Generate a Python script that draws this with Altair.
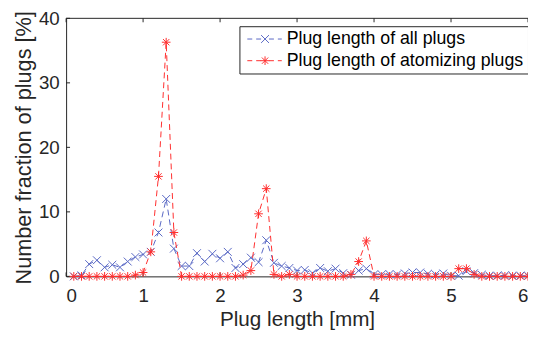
import altair as alt
import pandas as pd

# Bin positions (mm)
plug_len = [0.1, 0.2, 0.3, 0.4, 0.5, 0.6, 0.7, 0.8, 0.9, 1.0,
            1.1, 1.2, 1.3, 1.4, 1.5, 1.6, 1.7, 1.8, 1.9, 2.0,
            2.1, 2.2, 2.3, 2.4, 2.5, 2.6, 2.7, 2.8, 2.9, 3.0,
            3.1, 3.2, 3.3, 3.4, 3.5, 3.6, 3.7, 3.8, 3.9, 4.0,
            4.1, 4.2, 4.3, 4.4, 4.5, 4.6, 4.7, 4.8, 4.9, 5.0,
            5.1, 5.2, 5.3, 5.4, 5.5, 5.6, 5.7, 5.8, 5.9, 6.0]

# Number fraction [%] of all plugs
all_plugs = [0.0, 0.15, 1.9, 2.5, 1.4, 1.8, 1.4, 2.3, 3.0, 3.4,
             3.8, 6.8, 12.0, 4.3, 1.6, 1.6, 3.6, 2.3, 3.5, 2.8,
             3.8, 1.3, 1.9, 2.9, 2.2, 5.6, 2.1, 1.6, 1.3, 0.9,
             1.0, 0.5, 1.3, 0.8, 1.2, 0.5, 0.25, 0.9, 1.2, 0.3,
             0.3, 0.35, 0.3, 0.45, 0.6, 0.6, 0.4, 0.3, 0.45, 0.1,
             0.1, 0.8, 0.5, 0.25, 0.1, 0.1, 0.15, 0.1, 0.1, 0.1]

# Number fraction [%] of atomizing plugs
atom_plugs = [0.0, 0.0, 0.0, 0.0, 0.0, 0.0, 0.0, 0.0, 0.2, 0.6,
              3.8, 15.5, 36.3, 6.8, 0.0, 0.0, 0.0, 0.0, 0.0, 0.0,
              0.0, 0.0, 0.2, 0.9, 9.7, 13.6, 0.3, 0.0, 0.3, 0.0,
              0.0, 0.0, 0.0, 0.0, 0.0, 0.0, 0.3, 2.3, 5.5, 0.0,
              0.0, 0.0, 0.0, 0.0, 0.0, 0.0, 0.0, 0.0, 0.0, 0.0,
              1.2, 1.2, 0.3, 0.0, 0.0, 0.0, 0.0, 0.0, 0.0, 0.0]

series_keys = ["all", "atom"]
legend_labels = ["Plug length of all plugs", "Plug length of atomizing plugs"]
x_ticks = [0, 1, 2, 3, 4, 5, 6]
y_ticks = [0, 10, 20, 30, 40]

BLUE = "#5868c4"
RED = "#ff2e2e"
DARK = "#262626"
FONT = "Liberation Sans"
W, H = 469, 262

X_PATH = "M-1,-1L1,1M-1,1L1,-1"
AST_PATH = "M-1.1,0L1.1,0M0,-1.1L0,1.1M-0.8,-0.8L0.8,0.8M-0.8,0.8L0.8,-0.8"
DASHES = "M-1.25,0L0,0M1,0L2.25,0M4.25,0L5.5,0M6.5,0L7.5,0"
LEG_X = DASHES + "M2.25,-1L4.25,1M2.25,1L4.25,-1"
LEG_AST = DASHES + ("M2.15,0L4.35,0M3.25,-1.1L3.25,1.1M2.45,-0.8L4.05,0.8M2.45,0.8L4.05,-0.8")

df = pd.DataFrame({
    "x": plug_len * 2,
    "y": all_plugs + atom_plugs,
    "series": [series_keys[0]] * len(plug_len) + [series_keys[1]] * len(plug_len),
})

domain = series_keys + legend_labels
cscale = alt.Scale(domain=domain, range=[BLUE, RED, BLUE, RED])
sscale = alt.Scale(domain=domain, range=[X_PATH, AST_PATH, LEG_X, LEG_AST])

leg = alt.Legend(
    title=None, values=legend_labels, orient="none", legendX=176, legendY=8,
    labelFont=FONT, labelFontSize=18, labelColor="black", symbolSize=64,
    symbolStrokeWidth=1, labelOffset=26, padding=4, rowPadding=4,
    strokeColor=DARK, fillColor="white", labelLimit=400,
)

xscale = alt.Scale(domain=[0, 6], nice=False)
yscale = alt.Scale(domain=[0, 40], nice=False)

x_axis = alt.Axis(values=x_ticks, title="Plug length [mm]", grid=False, ticks=False,
                  labelPadding=11, titlePadding=3, titleFontSize=21, format="d")
y_axis = alt.Axis(values=y_ticks, title="Number fraction of plugs [%]", grid=False,
                  ticks=False, labelPadding=7, titlePadding=3, titleFontSize=22, format="d")

X = lambda f: alt.X(f, scale=xscale, axis=x_axis)
Y = lambda f: alt.Y(f, scale=yscale, axis=y_axis)

base = alt.Chart(df)


def series_layers(key, color):
    sub = base.transform_filter(alt.datum.series == key)
    line = sub.mark_line(strokeDash=[6, 4], strokeWidth=1, color=color).encode(
        x=X("x:Q"), y=Y("y:Q"),
    )
    pts = sub.mark_point(filled=False, size=64, strokeWidth=1, opacity=1).encode(
        x=X("x:Q"), y=Y("y:Q"),
        color=alt.Color("series:N", scale=cscale, legend=leg),
        shape=alt.Shape("series:N", scale=sscale, legend=leg),
    )
    return [line, pts]


xt = pd.DataFrame({"t": x_ticks})
yt = pd.DataFrame({"t": y_ticks})
frame = pd.DataFrame({"t": [0]})

top_border = alt.Chart(frame).mark_rule(color=DARK, strokeWidth=1).encode(
    x=alt.value(0), x2=alt.value(W), y=alt.value(0),
)
top_ticks = alt.Chart(xt).mark_rule(color=DARK, strokeWidth=1).encode(
    x=X("t:Q"), y=alt.value(0), y2=alt.value(4),
)
bottom_ticks = alt.Chart(xt).mark_rule(color=DARK, strokeWidth=1).encode(
    x=X("t:Q"), y=alt.value(H), y2=alt.value(H - 4),
)
left_ticks = alt.Chart(yt).mark_rule(color=DARK, strokeWidth=1).encode(
    y=Y("t:Q"), x=alt.value(0), x2=alt.value(4),
)

layers = ([top_border, top_ticks, bottom_ticks, left_ticks]
          + series_layers("all", BLUE) + series_layers("atom", RED))

chart = alt.layer(*layers).properties(
    width=W, height=H, background="white",
    autosize=alt.AutoSizeParams(type="none"),
    padding={"left": 59, "top": 8, "right": 0, "bottom": 55},
).configure_view(stroke=None).configure_axis(
    domainColor=DARK, domainWidth=1, labelFont=FONT, labelFontSize=19,
    labelColor=DARK, titleFont=FONT, titleFontWeight="normal",
    titleColor=DARK,
)

chart.save("out.html", embed_options={"renderer": "svg", "actions": False})
